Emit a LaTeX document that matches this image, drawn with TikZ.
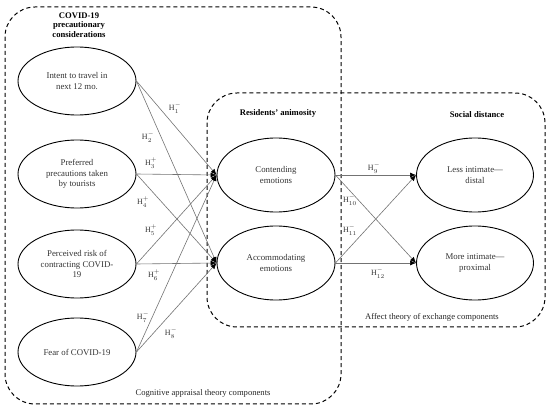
\documentclass[tikz,border=0pt]{standalone}
\usepackage{fontspec}
\setmainfont{Liberation Serif}
\usetikzlibrary{arrows.meta,shapes.geometric}

\begin{document}
\begin{tikzpicture}[x=1pt,y=-1pt,
  construct/.style={draw=black, ellipse, line width=0.9pt, minimum width=118pt, minimum height=68pt, inner sep=0pt, font=\fontsize{8.8}{10.5}\selectfont, align=center, text=black!80},
  zone/.style={draw=black, line width=1pt, dash pattern=on 4pt off 3pt, rounded corners=30pt},
  title/.style={font=\fontsize{8.6}{9.5}\selectfont\bfseries, align=center},
  caption/.style={font=\fontsize{8.6}{10}\selectfont, text=black!85},
  hyp/.style={font=\fontsize{8}{9}\selectfont, text=black!80, inner sep=0pt},
  path/.style={draw=black!55, line width=0.6pt},
  arr/.style={path, -{Latex[length=6pt,width=5pt,color=black]}}
]
\useasboundingbox (0,0) rectangle (550,409);

% ===== DASHED ZONES =====
\draw[zone] (5,7) rectangle (341,404);
\draw[zone] (207,93) rectangle (545,327);

\node[title] (ttlcovid) at (79,25) {COVID-19\\precautionary\\considerations};
\node[title] (ttlanim) at (278,113) {Residents' animosity};
\node[title] (ttlsocial) at (477,115) {Social distance};
\node[caption] (capcog) at (203,393) {Cognitive appraisal theory components};
\node[caption] (capaff) at (432,317) {Affect theory of exchange components};

% ===== CONSTRUCTS =====
\node[construct] (intent) at (77,81) {Intent to travel in\\next 12 mo.};
\node[construct] (precaut) at (77,174) {Preferred\\precautions taken\\by tourists};
\node[construct] (risk) at (77,264) {Perceived risk of\\contracting COVID-\\19};
\node[construct] (fear) at (77,352) {Fear of COVID-19};

\node[construct, minimum height=74pt] (contend) at (276,175) {Contending\\emotions};
\node[construct, minimum height=74pt] (accom) at (276,263) {Accommodating\\emotions};

\node[construct, minimum width=117pt, minimum height=74pt] (distal) at (475,175) {Less intimate---\\distal};
\node[construct, minimum width=117pt, minimum height=74pt] (proximal) at (475,263) {More intimate---\\proximal};

% ===== PATHS H1-H8 =====
\foreach \src in {intent,precaut,risk,fear}{
  \draw[arr] (\src.east) -- (contend.west);
  \draw[arr] (\src.east) -- (accom.west);
}

\node[hyp] (h1) at (175,108) {H$_{1}^{-}$};
\node[hyp] (h2) at (148,137) {H$_{2}^{-}$};
\node[hyp] (h3) at (151,163) {H$_{3}^{+}$};
\node[hyp] (h4) at (143,202) {H$_{4}^{+}$};
\node[hyp] (h5) at (151,230) {H$_{5}^{+}$};
\node[hyp] (h6) at (154,275) {H$_{6}^{+}$};
\node[hyp] (h7) at (143,317) {H$_{7}^{-}$};
\node[hyp] (h8) at (171,333) {H$_{8}^{-}$};

% ===== PATHS H9-H12 =====
\foreach \src in {contend,accom}{
  \draw[arr] (\src.east) -- (distal.west);
  \draw[arr] (\src.east) -- (proximal.west);
}

\node[hyp] (h9) at (374,168) {H$_{9}^{-}$};
\node[hyp] (h10) at (350,200) {H$_{10}^{-}$};
\node[hyp] (h11) at (350,230) {H$_{11}^{-}$};
\node[hyp] (h12) at (378,273) {H$_{12}^{-}$};

\end{tikzpicture}
\end{document}
